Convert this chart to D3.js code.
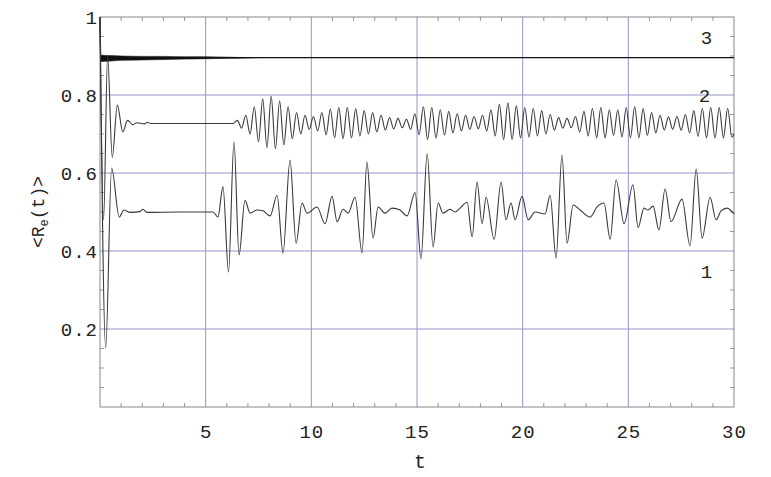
<!DOCTYPE html>
<html>
<head>
<meta charset="utf-8">
<script src="https://cdn.jsdelivr.net/npm/d3@7/dist/d3.min.js"></script>
<style>
  body { margin: 0; background: #fff; }
  text { font-family: 'Liberation Mono', 'DejaVu Sans Mono', monospace; fill: #222; }
</style>
</head>
<body>
<div id="chart"></div>
<script>
// tick labels
const xTicks = [5, 10, 15, 20, 25, 30]
const yTicks = [0.2, 0.4, 0.6, 0.8, 1]
const xGrid = [5, 10, 15, 20, 25]
const yGrid = [0.2, 0.4, 0.6, 0.8]

// curve 1 : [t, <Re>]
const curve1 = [
  [0, 1], [0.27, 0.151], [0.55, 0.613], [0.91, 0.487], [1.13, 0.505], [1.42, 0.499],
  [1.89, 0.501], [2.03, 0.507], [2.22, 0.499], [3.8, 0.5], [5.35, 0.5], [5.58, 0.487],
  [5.82, 0.565], [6.08, 0.346], [6.34, 0.68], [6.58, 0.39], [6.86, 0.53], [7.1, 0.497],
  [7.43, 0.505], [7.71, 0.503], [8.05, 0.49], [8.38, 0.543], [8.66, 0.395], [8.99, 0.633],
  [9.28, 0.42], [9.56, 0.523], [9.8, 0.497], [10.27, 0.513], [10.65, 0.47], [10.98, 0.54],
  [11.22, 0.475], [11.5, 0.507], [11.74, 0.497], [12.07, 0.538], [12.4, 0.395], [12.63, 0.628],
  [12.92, 0.433], [13.16, 0.513], [13.49, 0.497], [13.82, 0.51], [14.2, 0.505], [14.53, 0.49],
  [14.91, 0.55], [15.19, 0.38], [15.48, 0.65], [15.76, 0.41], [16.0, 0.523], [16.23, 0.497],
  [16.56, 0.507], [16.8, 0.5], [17.04, 0.51], [17.37, 0.525], [17.61, 0.436], [17.84, 0.577],
  [18.08, 0.47], [18.27, 0.538], [18.65, 0.43], [18.98, 0.577], [19.21, 0.48], [19.45, 0.523],
  [19.64, 0.48], [19.97, 0.54], [20.26, 0.48], [20.59, 0.5], [21.06, 0.495], [21.3, 0.543],
  [21.58, 0.382], [21.86, 0.646], [22.1, 0.42], [22.39, 0.518], [22.72, 0.505], [23.19, 0.487],
  [23.52, 0.513], [23.85, 0.523], [24.14, 0.43], [24.42, 0.582], [24.8, 0.47], [25.22, 0.57],
  [25.46, 0.46], [25.74, 0.51], [25.93, 0.505], [26.17, 0.515], [26.45, 0.454], [26.74, 0.559],
  [27.02, 0.475], [27.54, 0.533], [27.92, 0.413], [28.21, 0.61], [28.49, 0.433], [28.87, 0.538],
  [29.15, 0.48], [29.39, 0.503], [29.67, 0.51], [30, 0.495]
]

// curve 2 : [t, <Re>]
const curve2 = [
  [0, 1], [0.17, 0.48], [0.36, 0.9], [0.58, 0.64], [0.82, 0.774], [1.08, 0.705], [1.3, 0.735],
  [1.55, 0.724], [1.75, 0.729], [2.1, 0.726], [2.25, 0.73], [2.4, 0.727], [6.3, 0.727],
  [6.5, 0.735], [6.7, 0.715], [6.9, 0.748], [7.1, 0.70], [7.3, 0.77], [7.5, 0.68],
  [7.7, 0.79], [7.9, 0.665], [8.1, 0.797], [8.3, 0.662], [8.5, 0.785], [8.7, 0.672],
  [8.9, 0.77], [9.1, 0.688], [9.3, 0.755], [9.5, 0.70], [9.7, 0.748], [9.9, 0.712],
  [10.1, 0.745], [10.3, 0.708], [10.5, 0.755], [10.7, 0.698], [10.9, 0.764], [11.1, 0.69],
  [11.3, 0.768], [11.5, 0.688], [11.7, 0.768], [11.9, 0.69], [12.1, 0.765], [12.3, 0.695],
  [12.5, 0.76], [12.7, 0.70], [12.9, 0.755], [13.1, 0.705], [13.3, 0.748], [13.5, 0.71],
  [13.7, 0.742], [13.9, 0.713], [14.1, 0.74], [14.3, 0.716], [14.5, 0.738], [14.7, 0.712],
  [14.9, 0.752], [15.1, 0.698], [15.3, 0.77], [15.5, 0.686], [15.7, 0.768], [15.9, 0.69],
  [16.1, 0.762], [16.3, 0.697], [16.5, 0.758], [16.7, 0.703], [16.9, 0.752], [17.1, 0.708],
  [17.3, 0.748], [17.5, 0.712], [17.7, 0.745], [17.9, 0.713], [18.1, 0.748], [18.3, 0.708],
  [18.5, 0.762], [18.7, 0.695], [18.9, 0.776], [19.1, 0.686], [19.3, 0.78], [19.5, 0.686],
  [19.7, 0.772], [19.9, 0.69], [20.1, 0.768], [20.3, 0.692], [20.5, 0.766], [20.7, 0.695],
  [20.9, 0.76], [21.1, 0.70], [21.3, 0.75], [21.5, 0.71], [21.7, 0.742], [21.9, 0.715],
  [22.1, 0.74], [22.3, 0.716], [22.5, 0.745], [22.7, 0.705], [22.9, 0.758], [23.1, 0.695],
  [23.3, 0.766], [23.5, 0.69], [23.7, 0.768], [23.9, 0.69], [24.1, 0.762], [24.3, 0.696],
  [24.5, 0.762], [24.7, 0.692], [24.9, 0.768], [25.1, 0.69], [25.3, 0.77], [25.5, 0.69],
  [25.7, 0.765], [25.9, 0.696], [26.1, 0.755], [26.3, 0.703], [26.5, 0.748], [26.7, 0.71],
  [26.9, 0.744], [27.1, 0.712], [27.3, 0.745], [27.5, 0.71], [27.7, 0.75], [27.9, 0.703],
  [28.1, 0.76], [28.3, 0.694], [28.5, 0.766], [28.7, 0.69], [28.9, 0.768], [29.1, 0.69],
  [29.3, 0.768], [29.5, 0.69], [29.7, 0.766], [29.9, 0.692], [30, 0.70]
]

// curve 3 : the line, and the envelope of its fast early ringing
const curve3 = [[0, 1], [0.04, 0.89], [0.3, 0.895], [7.5, 0.896], [30, 0.896]]
const curve3BandT = [0.04, 0.5, 1, 2, 3, 4, 5, 6, 7, 7.5]
const curve3Upper = [0.902, 0.901, 0.9, 0.899, 0.899, 0.898, 0.898, 0.897, 0.896, 0.896]
const curve3Lower = [0.886, 0.887, 0.889, 0.890, 0.891, 0.892, 0.893, 0.894, 0.895, 0.896]

const curveLabels = [
  { name: '3', t: 28.7, v: 0.944 },
  { name: '2', t: 28.6, v: 0.795 },
  { name: '1', t: 28.7, v: 0.344 }
]

const width = 771
const height = 477

const svg = d3
  .select('#chart')
  .append('svg')
  .attr('width', width)
  .attr('height', height)

const x = d3.scaleLinear().domain([0, 30]).range([100, 734])
const y = d3.scaleLinear().domain([0, 1]).range([407, 17])

// grid
svg
  .selectAll('.xgrid')
  .data(xGrid)
  .enter()
  .append('line')
  .attr('x1', d => x(d))
  .attr('x2', d => x(d))
  .attr('y1', y(0))
  .attr('y2', y(1))
  .attr('stroke', '#9494c8')
  .attr('stroke-width', 1)

svg
  .selectAll('.ygrid')
  .data(yGrid)
  .enter()
  .append('line')
  .attr('x1', x(0))
  .attr('x2', x(30))
  .attr('y1', d => y(d))
  .attr('y2', d => y(d))
  .attr('stroke', '#9494c8')
  .attr('stroke-width', 1)

// minor ticks on all four sides
const xMinor = d3.range(1, 30).filter(d => d % 5 !== 0)
const yMinor = d3.range(1, 20).map(d => d * 0.05).filter(d => Math.round(d * 100) % 20 !== 0)

const ticks = svg.append('g').attr('stroke', '#999').attr('stroke-width', 1)
xMinor.forEach(d => {
  ticks.append('line').attr('x1', x(d)).attr('x2', x(d)).attr('y1', y(0)).attr('y2', y(0) - 4)
  ticks.append('line').attr('x1', x(d)).attr('x2', x(d)).attr('y1', y(1)).attr('y2', y(1) + 4)
})
yMinor.forEach(d => {
  ticks.append('line').attr('x1', x(0)).attr('x2', x(0) + 4).attr('y1', y(d)).attr('y2', y(d))
  ticks.append('line').attr('x1', x(30)).attr('x2', x(30) - 4).attr('y1', y(d)).attr('y2', y(d))
})

// frame
svg
  .append('rect')
  .attr('x', x(0))
  .attr('y', y(1))
  .attr('width', x(30) - x(0))
  .attr('height', y(0) - y(1))
  .attr('fill', 'none')
  .attr('stroke', '#888')
  .attr('stroke-width', 1)

// axes labels via d3 axes
const xAxis = d3.axisBottom(x).tickValues(xTicks).tickSize(0).tickPadding(18)
svg
  .append('g')
  .attr('class', 'axis x-axis')
  .attr('transform', `translate(0,${y(0)})`)
  .call(xAxis)

const yAxis = d3
  .axisLeft(y)
  .tickValues(yTicks)
  .tickSize(0)
  .tickPadding(2)
  .tickFormat(d => (d === 1 ? '1' : d3.format('.1f')(d)))
svg
  .append('g')
  .attr('class', 'axis y-axis')
  .attr('transform', `translate(${x(0)},0)`)
  .call(yAxis)

svg.selectAll('.axis .domain').remove()
svg
  .selectAll('.axis text')
  .style('font-family', "'Liberation Mono', monospace")
  .style('font-size', '19px')
  .style('letter-spacing', '1px')
  .attr('fill', '#222')

// curves
const line = d3
  .line()
  .x(d => x(d[0]))
  .y(d => y(d[1]))
  .curve(d3.curveMonotoneX)

const band = d3
  .area()
  .x((d, i) => x(curve3BandT[i]))
  .y0((d, i) => y(curve3Lower[i]))
  .y1((d, i) => y(curve3Upper[i]))
  .curve(d3.curveMonotoneX)

svg
  .append('path')
  .datum(curve3BandT)
  .attr('d', band)
  .attr('fill', '#111')
  .attr('stroke', '#111')
  .attr('stroke-width', 0.6)

svg
  .append('path')
  .datum(curve3)
  .attr('d', line)
  .attr('fill', 'none')
  .attr('stroke', '#111')
  .attr('stroke-width', 1.3)

svg
  .append('path')
  .datum(curve2)
  .attr('d', line)
  .attr('fill', 'none')
  .attr('stroke', '#3a3a3a')
  .attr('stroke-width', 1.1)

svg
  .append('path')
  .datum(curve1)
  .attr('d', line)
  .attr('fill', 'none')
  .attr('stroke', '#3a3a3a')
  .attr('stroke-width', 1.1)

// curve labels
svg
  .selectAll('.clabel')
  .data(curveLabels)
  .enter()
  .append('text')
  .attr('x', d => x(d.t))
  .attr('y', d => y(d.v))
  .attr('text-anchor', 'middle')
  .attr('dominant-baseline', 'middle')
  .style('font-size', '19px')
  .text(d => d.name)

// axis titles
svg
  .append('text')
  .attr('x', 420)
  .attr('y', 463)
  .attr('text-anchor', 'middle')
  .attr('dominant-baseline', 'middle')
  .style('font-size', '20px')
  .text('t')

const ylab = svg
  .append('text')
  .attr('transform', 'translate(44,212) rotate(-90)')
  .attr('text-anchor', 'middle')
  .style('font-size', '18px')
ylab.append('tspan').text('<R')
ylab.append('tspan').attr('dy', 4).style('font-size', '12px').text('e')
ylab.append('tspan').attr('dy', -4).text('(t)>')
</script>
</body>
</html>
